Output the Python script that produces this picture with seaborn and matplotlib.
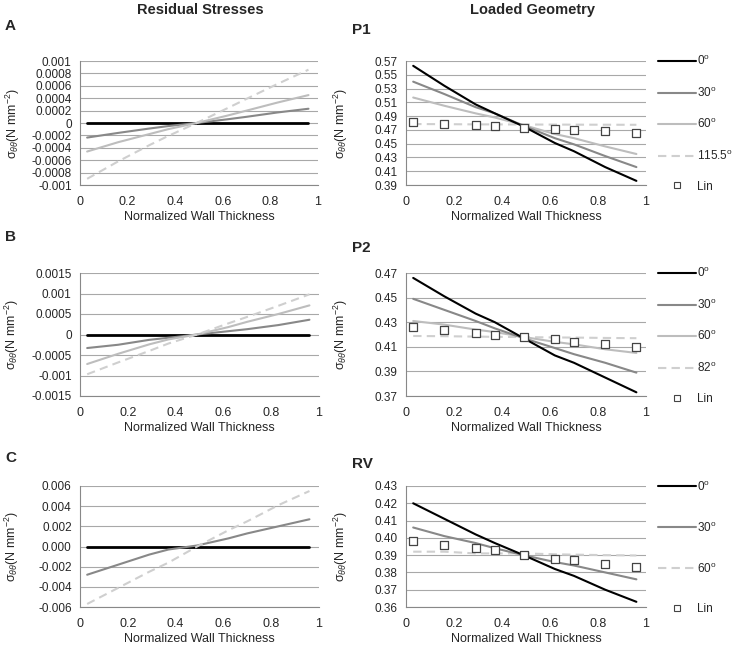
import numpy as np
import pandas as pd
import seaborn as sns
import matplotlib
matplotlib.use("Agg")
from matplotlib import pyplot as plt
from matplotlib.lines import Line2D

# normalized wall thickness sample points
x_pts = [0.03, 0.16, 0.29, 0.37, 0.49, 0.62, 0.70, 0.83, 0.96]

# residual stresses (left column)
resA_0 = [0, 0, 0, 0, 0, 0, 0, 0, 0]
resA_30 = [-0.000235, -0.00016, -0.00009, -0.00005, 0.0, 0.00006, 0.0001, 0.00017, 0.00023]
resA_60 = [-0.00046, -0.00031, -0.00018, -0.0001, 0.0, 0.00012, 0.0002, 0.00033, 0.00045]
resA_115 = [-0.0009, -0.00062, -0.00036, -0.00021, 0.0, 0.00024, 0.00039, 0.00063, 0.00086]

resB_0 = [0, 0, 0, 0, 0, 0, 0, 0, 0]
resB_30 = [-0.00033, -0.00025, -0.00013, -0.00008, 0.0, 0.00008, 0.00013, 0.00023, 0.00036]
resB_60 = [-0.00072, -0.00047, -0.00024, -0.00012, 0.0, 0.00018, 0.00031, 0.0005, 0.00071]
resB_82 = [-0.00097, -0.00068, -0.0004, -0.00022, 0.0, 0.00027, 0.00043, 0.0007, 0.00098]

resC_0 = [0, 0, 0, 0, 0, 0, 0, 0, 0]
resC_30 = [-0.0028, -0.0018, -0.0008, -0.0003, 0.0001, 0.0008, 0.0013, 0.002, 0.0027]
resC_60 = [-0.0057, -0.0041, -0.0025, -0.0016, 0.0, 0.0016, 0.0025, 0.0041, 0.0055]

# loaded geometry (right column)
p1_0 = [0.563, 0.534, 0.507, 0.494, 0.475, 0.451, 0.439, 0.416, 0.396]
p1_30 = [0.540, 0.522, 0.503, 0.494, 0.476, 0.458, 0.449, 0.432, 0.416]
p1_60 = [0.517, 0.505, 0.494, 0.488, 0.477, 0.464, 0.458, 0.446, 0.435]
p1_115 = [0.4785, 0.4783, 0.478, 0.478, 0.4778, 0.4777, 0.4776, 0.4775, 0.4774]
p1_lin = [0.481, 0.479, 0.477, 0.476, 0.473, 0.471, 0.470, 0.468, 0.466]

p2_0 = [0.466, 0.451, 0.437, 0.430, 0.417, 0.403, 0.397, 0.385, 0.373]
p2_30 = [0.449, 0.440, 0.431, 0.425, 0.417, 0.409, 0.404, 0.397, 0.389]
p2_60 = [0.431, 0.428, 0.424, 0.422, 0.418, 0.414, 0.412, 0.408, 0.405]
p2_82 = [0.4188, 0.4186, 0.4183, 0.4181, 0.4179, 0.4176, 0.4175, 0.4172, 0.417]
p2_lin = [0.426, 0.424, 0.421, 0.420, 0.418, 0.416, 0.414, 0.412, 0.410]

rv_0 = [0.420, 0.411, 0.402, 0.397, 0.390, 0.382, 0.378, 0.370, 0.363]
rv_30 = [0.406, 0.401, 0.397, 0.394, 0.390, 0.386, 0.384, 0.380, 0.376]
rv_60 = [0.392, 0.392, 0.391, 0.391, 0.391, 0.3905, 0.3903, 0.390, 0.3898]
rv_lin = [0.398, 0.396, 0.394, 0.393, 0.390, 0.388, 0.387, 0.385, 0.383]

# tick values
x_ticks = [0, 0.2, 0.4, 0.6, 0.8, 1]
x_ticklabels = ["0", "0.2", "0.4", "0.6", "0.8", "1"]
yA_ticks = [-0.001, -0.0008, -0.0006, -0.0004, -0.0002, 0, 0.0002, 0.0004, 0.0006, 0.0008, 0.001]
yA_labels = ["-0.001", "-0.0008", "-0.0006", "-0.0004", "-0.0002", "0", "0.0002", "0.0004", "0.0006", "0.0008", "0.001"]
yB_ticks = [-0.0015, -0.001, -0.0005, 0, 0.0005, 0.001, 0.0015]
yB_labels = ["-0.0015", "-0.001", "-0.0005", "0", "0.0005", "0.001", "0.0015"]
yC_ticks = [-0.006, -0.004, -0.002, 0, 0.002, 0.004, 0.006]
yC_labels = ["-0.006", "-0.004", "-0.002", "0.000", "0.002", "0.004", "0.006"]
yP1_ticks = [0.39, 0.41, 0.43, 0.45, 0.47, 0.49, 0.51, 0.53, 0.55, 0.57]
yP2_ticks = [0.37, 0.39, 0.41, 0.43, 0.45, 0.47]
yRV_ticks = [0.36, 0.37, 0.38, 0.39, 0.40, 0.41, 0.42, 0.43]

sns.set_style("white")
plt.rcParams['font.family'] = ['Liberation Sans', 'DejaVu Sans']
plt.rcParams['mathtext.fontset'] = 'custom'
plt.rcParams['mathtext.rm'] = 'Liberation Sans'
plt.rcParams['mathtext.it'] = 'Liberation Sans:italic'
plt.rcParams['axes.unicode_minus'] = False

C0 = "#000000"
C30 = "#888888"
C60 = "#bdbdbd"
CDASH = "#cfcfcf"
GRID = "#a8a8a8"
DASH = (0, (4, 2.5))

fig = plt.figure(figsize=(7.37, 6.48), dpi=100)
W, H = 737.0, 648.0


def make_ax(left, right, top, bottom):
    return fig.add_axes([left / W, 1 - bottom / H, (right - left) / W, (bottom - top) / H])


def style_ax(ax, yticks, ylabels, lx):
    ax.set_xlim(0, 1)
    ax.set_ylim(yticks[0], yticks[-1])
    ax.set_xticks(x_ticks)
    ax.set_xticklabels(x_ticklabels, fontsize=9)
    ax.set_yticks(yticks)
    ax.set_yticklabels(ylabels, fontsize=8.5)
    ax.grid(axis='y', color=GRID, lw=0.8)
    ax.set_axisbelow(True)
    for s in ['top', 'right']:
        ax.spines[s].set_visible(False)
    for s in ['left', 'bottom']:
        ax.spines[s].set_color("#888888")
        ax.spines[s].set_linewidth(0.8)
    ax.tick_params(axis='both', direction='out', length=4, width=0.8, color="#888888", pad=2)
    ax.tick_params(axis='x', length=4, pad=4)
    ax.set_xlabel("Normalized Wall Thickness", fontsize=9, labelpad=2)
    ax.set_ylabel("σ$_{θθ}$(N mm$^{-2}$)", fontsize=9)
    ax.yaxis.set_label_coords(lx, 0.5)


def line(ax, y, color, lw=1.5, ls='-'):
    sns.lineplot(x=x_pts, y=y, ax=ax, color=color, lw=lw, linestyle=ls, legend=False)


def lin(ax, y):
    sns.scatterplot(x=x_pts, y=y, ax=ax, marker='s', s=36, facecolor='white',
                    edgecolor='#444444', linewidth=0.9, legend=False, zorder=5)


def legend(ax, labels, styles, spacing, top):
    handles = []
    for c, ls in styles:
        if c == 'lin':
            handles.append(Line2D([], [], ls='none', marker='s', markersize=4.5,
                                  mfc='white', mec='#444444', mew=0.8))
        else:
            handles.append(Line2D([], [], color=c, lw=1.5, ls=ls))
    leg = ax.legend(handles, labels, loc='upper left', bbox_to_anchor=(1.025, top),
                    frameon=False, handlelength=3.2, handletextpad=0.15,
                    labelspacing=spacing, borderpad=0, fontsize=8.5)
    return leg


rows = [(61, 185), (273, 396), (486, 607)]

# ---- left column: residual stresses
axA = make_ax(80, 318, *rows[0])
line(axA, resA_0, C0, lw=2)
line(axA, resA_30, C30)
line(axA, resA_60, C60)
line(axA, resA_115, CDASH, ls=DASH)
style_ax(axA, yA_ticks, yA_labels, -0.245)

axB = make_ax(80, 319, *rows[1])
line(axB, resB_0, C0, lw=2)
line(axB, resB_30, C30)
line(axB, resB_60, C60)
line(axB, resB_82, CDASH, ls=DASH)
style_ax(axB, yB_ticks, yB_labels, -0.245)

axC = make_ax(80, 319, *rows[2])
line(axC, resC_0, C0, lw=2)
line(axC, resC_30, C30)
line(axC, resC_60, CDASH, ls=DASH)
style_ax(axC, yC_ticks, yC_labels, -0.245)

# ---- right column: loaded geometry
axP1 = make_ax(406, 646, *rows[0])
line(axP1, p1_115, CDASH, ls=DASH)
line(axP1, p1_60, C60)
line(axP1, p1_30, C30)
line(axP1, p1_0, C0)
lin(axP1, p1_lin)
style_ax(axP1, yP1_ticks, ["%.2f" % v for v in yP1_ticks], -0.233)
legend(axP1, ["0$^{\\mathrm{o}}$", "30$^{\\mathrm{o}}$", "60$^{\\mathrm{o}}$", "115.5$^{\\mathrm{o}}$", "Lin"],
       [(C0, '-'), (C30, '-'), (C60, '-'), (CDASH, DASH), ('lin', None)], 1.5, 1.10)

axP2 = make_ax(406, 646, *rows[1])
line(axP2, p2_82, CDASH, ls=DASH)
line(axP2, p2_60, C60)
line(axP2, p2_30, C30)
line(axP2, p2_0, C0)
lin(axP2, p2_lin)
style_ax(axP2, yP2_ticks, ["%.2f" % v for v in yP2_ticks], -0.233)
legend(axP2, ["0$^{\\mathrm{o}}$", "30$^{\\mathrm{o}}$", "60$^{\\mathrm{o}}$", "82$^{\\mathrm{o}}$", "Lin"],
       [(C0, '-'), (C30, '-'), (C60, '-'), (CDASH, DASH), ('lin', None)], 1.5, 1.10)

axRV = make_ax(406, 646, *rows[2])
line(axRV, rv_60, CDASH, ls=DASH)
line(axRV, rv_30, C30)
line(axRV, rv_0, C0)
lin(axRV, rv_lin)
style_ax(axRV, yRV_ticks, ["%.2f" % v for v in yRV_ticks], -0.233)
legend(axRV, ["0$^{\\mathrm{o}}$", "30$^{\\mathrm{o}}$", "60$^{\\mathrm{o}}$", "Lin"],
       [(C0, '-'), (C30, '-'), (CDASH, DASH), ('lin', None)], 2.3, 1.10)

# titles and panel letters
fig.text(200 / W, 1 - 10 / H, "Residual Stresses", ha='center', va='center', fontsize=10.5, fontweight='bold')
fig.text(532 / W, 1 - 10 / H, "Loaded Geometry", ha='center', va='center', fontsize=10.5, fontweight='bold')
for lab, px, py in [("A", 5, 26), ("B", 5, 237), ("C", 5, 458),
                    ("P1", 352, 30), ("P2", 352, 248), ("RV", 352, 464)]:
    fig.text(px / W, 1 - py / H, lab, ha='left', va='center', fontsize=11, fontweight='bold')

fig.savefig("out.png", dpi=100)
